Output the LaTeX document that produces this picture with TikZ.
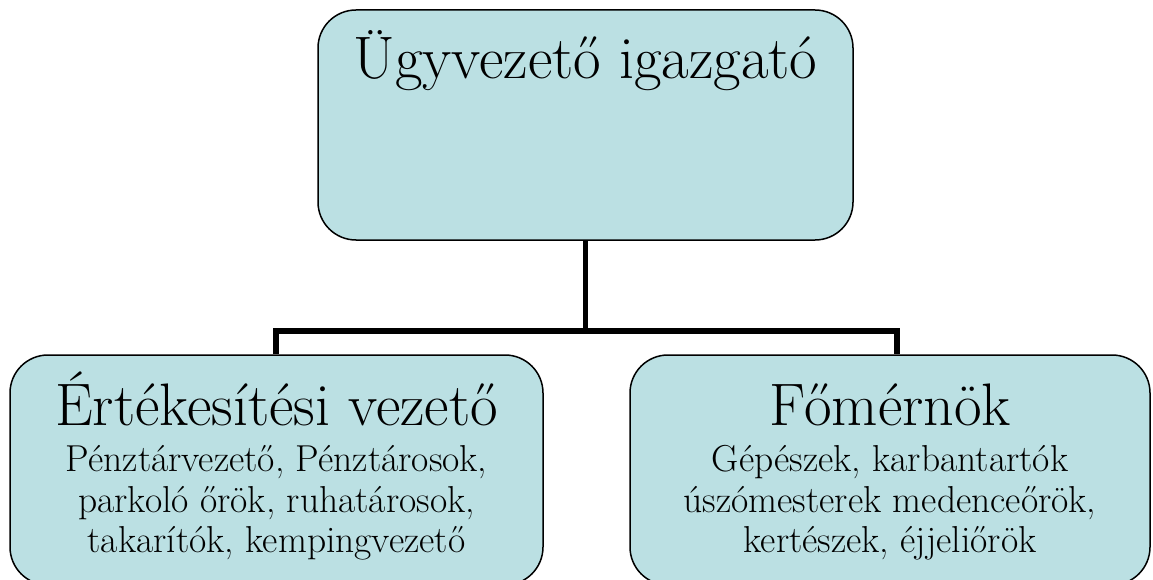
\documentclass[tikz,border=0pt]{standalone}
\usepackage{fontspec}
\definecolor{boxfill}{RGB}{187,224,227}
\begin{document}
\begin{tikzpicture}[x=1pt,y=-1pt,
  orgbox/.style={draw=black,line width=1.5pt,fill=boxfill,rounded corners=38pt,rectangle,inner sep=0pt},
  head/.style={anchor=base,font=\fontsize{60}{66}\selectfont,inner sep=0pt},
  sub/.style={anchor=base,font=\fontsize{37.5}{40}\selectfont,inner sep=0pt},
  conn/.style={line width=5.5pt}]
\useasboundingbox (0,0) rectangle (1153,580);
\fill[white] (0,0) rectangle (1153,580);
\node[orgbox,minimum width=535pt,minimum height=230pt] (ceo) at (585.5,125) {};
\node[orgbox,minimum width=533pt,minimum height=230pt] (sales) at (276.5,470) {};
\node[orgbox,minimum width=520pt,minimum height=230pt] (eng) at (890,470) {};
\node[head] (ceot) at (585.5,79) {Ügyvezető igazgató};
\node[head] (salest) at (276.5,425) {Értékesítési vezető};
\node[head] (engt) at (890,425) {Főmérnök};
\node[sub] (s1) at (276.5,471) {Pénztárvezető, Pénztárosok,};
\node[sub] (s2) at (276.5,512) {parkoló őrök, ruhatárosok,};
\node[sub] (s3) at (276.5,552) {takarítók, kempingvezető};
\node[sub] (e1) at (890,471) {Gépészek, karbantartók};
\node[sub] (e2) at (890,512) {úszómesterek medenceőrök,};
\node[sub] (e3) at (890,552) {kertészek, éjjeliőrök};
\coordinate (hub) at (585.5,331);
\draw[conn] (ceo.south) -- (hub);
\draw[conn] (sales.north -| 276,0) |- (hub) -| (eng.north -| 897,0);
\end{tikzpicture}
\end{document}
